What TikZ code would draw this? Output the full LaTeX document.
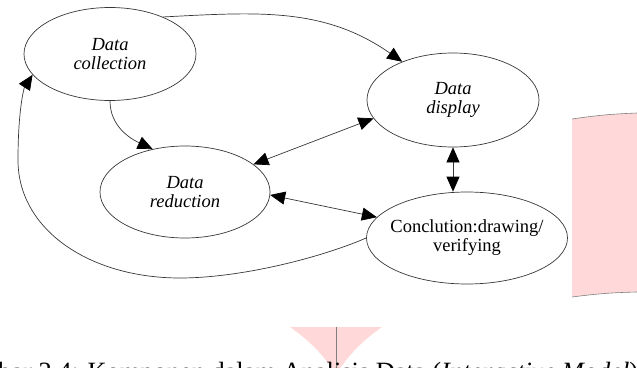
\documentclass[tikz,border=0pt]{standalone}
\usepackage{fontspec}
\setmainfont{Liberation Serif}
\usetikzlibrary{shapes.geometric,arrows.meta}
\definecolor{rosa}{RGB}{255,217,217}
\definecolor{linea}{RGB}{55,55,55}

\begin{document}
\begin{tikzpicture}[x=1pt,y=-1pt,
    elipse/.style={draw=linea, line width=0.7pt, ellipse, inner sep=0pt, align=center,
      font=\fontsize{18.5}{19}\selectfont\itshape},
    flecha/.style={-{Triangle[length=15pt,width=13pt,color=black]}, draw=linea, line width=0.7pt},
    doble/.style={{Triangle[length=15pt,width=13pt,color=black]}-{Triangle[length=15pt,width=13pt,color=black]},
      draw=linea, line width=0.7pt}]
    \useasboundingbox (0,0) rectangle (637,367);
    \clip (0,0) rectangle (637,367);

    % Fondo rosa
    \fill[rosa] (572,119) to[bend left=3] (637,113) -- (637,292) to[bend right=3] (572,297) -- cycle;
    \draw[gray, line width=0.6pt] (572,119) to[bend left=3] (637,113);
    \draw[gray, line width=0.6pt] (572,297) to[bend left=3] (637,292);
    \fill[rosa] (290,327) -- (382,327) to[bend right=10] (336,374) to[bend right=10] cycle;
    \draw[gray, line width=0.5pt] (336,327) -- (336,374);

    % Elipses
    \node[elipse, minimum width=172pt, minimum height=93pt] (coll) at (110,54) {Data\\collection};
    \node[elipse, minimum width=172pt, minimum height=94pt] (disp) at (453,100) {Data\\display};
    \node[elipse, minimum width=170pt, minimum height=92pt] (red) at (185,192) {Data\\reduction};
    \node[elipse, minimum width=201pt, minimum height=92pt, inner xsep=-10pt,
      font=\fontsize{18.5}{19}\selectfont] (concl) at (467,238) {Conclution:drawing/\\verifying};

    % Flechas
    \draw[flecha] (coll.south) to[out=-90,in=155] (red.127);
    \draw[flecha] (coll.35) to[out=3,in=145] (disp.143);
    \draw[doble] (red.22) -- (disp.193);
    \draw[doble] (disp.south) -- (disp.south |- concl.north);
    \draw[doble] (red.-2) -- (concl.167);
    \draw[flecha] (concl.west) .. controls (320,258) and (240,278) .. (180,278)
      .. controls (90,278) and (18,230) .. (18,160)
      .. controls (18,110) and (24,88) .. (coll.195);

    % Pie de figura
    \node[anchor=base west, inner sep=0pt, font=\fontsize{26.4}{30}\selectfont] (pie) at (-2,380)
      {bar 2.4: Komponen dalam Analisis Data (\textit{Interactive Model})};
\end{tikzpicture}
\end{document}
